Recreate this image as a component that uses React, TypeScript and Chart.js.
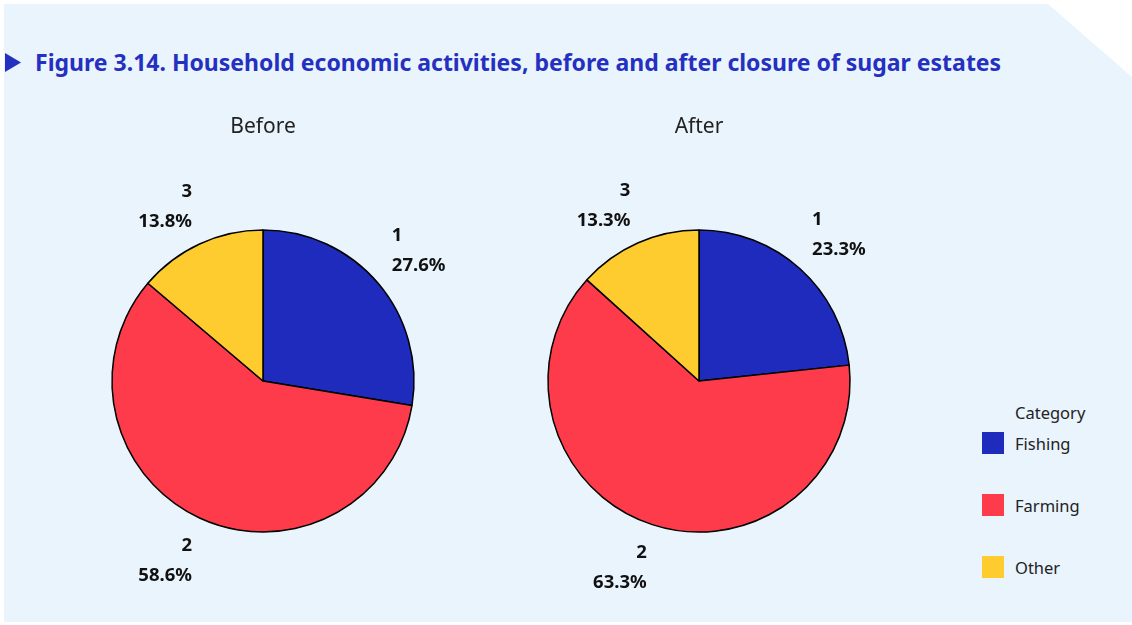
import React, { useEffect, useRef } from 'react';
import { Chart, registerables } from 'chart.js';

Chart.register(...registerables);

// ---------- data ----------
const categories = ['Fishing', 'Farming', 'Other'];
const sliceIds = ['1', '2', '3'];
const beforeValues = [27.6, 58.6, 13.8];
const afterValues = [23.3, 63.3, 13.3];
const colors = ['#1f2bbd', '#fe3b4a', '#fecc2e'];
const panelTitles = ['Before', 'After'];
const figureTitle =
  'Figure 3.14. Household economic activities, before and after closure of sugar estates';
const legendTitle = 'Category';

const FONT = '"Noto Sans", sans-serif';

const labelPlugin = {
  id: 'outerLabels',
  afterDatasetsDraw(chart: any, _args: any, opts: any) {
    const ctx = chart.ctx;
    const meta = chart.getDatasetMeta(0);
    const values = chart.data.datasets[0].data as number[];
    ctx.save();
    ctx.font = `bold 18.5px ${FONT}`;
    ctx.fillStyle = '#111';
    ctx.textBaseline = 'middle';
    meta.data.forEach((arc: any, i: number) => {
      const { x, y, startAngle, endAngle, outerRadius } = arc.getProps(
        ['x', 'y', 'startAngle', 'endAngle', 'outerRadius'],
        true
      );
      const mid = (startAngle + endAngle) / 2;
      const d = outerRadius + 18;
      const ax = x + Math.cos(mid) * d;
      const ay = y + Math.sin(mid) * d;
      const right = Math.cos(mid) >= 0;
      const upper = Math.sin(mid) < 0;
      ctx.textAlign = right ? 'left' : 'right';
      const l1 = upper ? ay - 36 : ay + 11;
      const l2 = upper ? ay - 6 : ay + 41;
      ctx.fillText(sliceIds[i], ax, l1);
      ctx.fillText(values[i].toFixed(1) + '%', ax, l2);
    });
    const ca = chart.chartArea;
    ctx.font = `21px ${FONT}`;
    ctx.fillStyle = '#222';
    ctx.textAlign = 'center';
    ctx.fillText(opts.title, (ca.left + ca.right) / 2, ca.top - 10);
    ctx.restore();
  },
};

function PieCanvas({ values, title, left, padTop }: { values: number[]; title: string; left: number; padTop: number }) {
  const ref = useRef<HTMLCanvasElement>(null);
  useEffect(() => {
    if (!ref.current) return;
    const chart = new Chart(ref.current, {
      type: 'pie',
      data: {
        labels: categories,
        datasets: [
          {
            data: values,
            backgroundColor: colors,
            borderColor: '#000',
            borderWidth: 1.5,
          },
        ],
      },
      options: {
        animation: false,
        responsive: false,
        radius: 151,
        layout: { padding: { top: padTop, bottom: 0, left: 0, right: 0 } },
        plugins: {
          legend: { display: false },
          tooltip: { enabled: false },
          outerLabels: { title },
        } as any,
      } as any,
      plugins: [labelPlugin],
    });
    return () => chart.destroy();
  }, []);
  return (
    <canvas
      ref={ref}
      width={436}
      height={625}
      style={{ position: 'absolute', left, top: 0, width: 436, height: 625 }}
    />
  );
}

export default function App() {
  return (
    <div
      style={{
        position: 'absolute',
        left: 0,
        top: 0,
        width: 1132,
        height: 625,
        background: '#ffffff',
        overflow: 'hidden',
        fontFamily: FONT,
      }}
    >
      <div
        style={{
          position: 'absolute',
          left: 4,
          top: 4,
          width: 1128,
          height: 618,
          background: '#e9f4fd',
          clipPath: 'polygon(0 0, 1044px 0, 1128px 73px, 1128px 618px, 0 618px)',
        }}
      />
      <div
        style={{
          position: 'absolute',
          left: 5,
          top: 53,
          width: 16,
          height: 19,
          background: '#2530c0',
          clipPath: 'polygon(0 0, 100% 50%, 0 100%)',
        }}
      />
      <div
        style={{
          position: 'absolute',
          left: 35,
          top: 47,
          lineHeight: '30px',
          fontSize: 23,
          fontWeight: 700,
          color: '#2530c0',
          whiteSpace: 'nowrap',
        }}
      >
        {figureTitle}
      </div>
      <PieCanvas values={beforeValues} title={panelTitles[0]} left={45} padTop={137} />
      <PieCanvas values={afterValues} title={panelTitles[1]} left={481} padTop={137} />
      <div
        style={{
          position: 'absolute',
          left: 1015,
          top: 402,
          lineHeight: '22px',
          fontSize: 16.5,
          color: '#222',
        }}
      >
        {legendTitle}
      </div>
      {categories.map((c, i) => (
        <React.Fragment key={c}>
          <div
            style={{
              position: 'absolute',
              left: 982,
              top: 432 + i * 62,
              width: 22,
              height: 22,
              background: colors[i],
            }}
          />
          <div
            style={{
              position: 'absolute',
              left: 1015,
              top: 433 + i * 62,
              lineHeight: '22px',
              fontSize: 16.5,
              color: '#222',
            }}
          >
            {c}
          </div>
        </React.Fragment>
      ))}
    </div>
  );
}
